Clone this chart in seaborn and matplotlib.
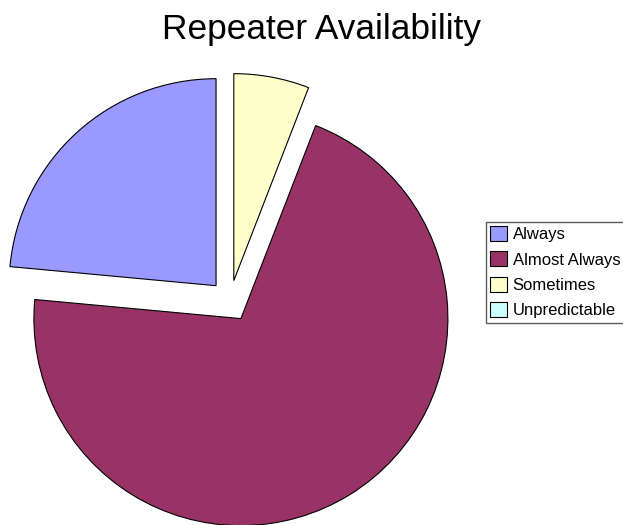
import matplotlib
matplotlib.use("Agg")
import matplotlib.pyplot as plt
import matplotlib.patches as mpatches
import seaborn as sns

categories = ["Always", "Almost Always", "Sometimes", "Unpredictable"]
counts = [4, 12, 1, 0]
colors = ["#9999FF", "#993366", "#FFFFCC", "#CCFFFF"]
title = "Repeater Availability"

sns.set_theme(style="white")
plt.rcParams["font.family"] = ["Liberation Sans", "DejaVu Sans"]
plt.rcParams["text.color"] = "black"

W, H = 623, 525
fig = plt.figure(figsize=(W / 100, H / 100), dpi=100)

# pie centre and radius in pixels
cx, cy, R = 230, 301, 207
span = 1.3
side = 2 * span * R
ax = fig.add_axes([(cx - side / 2) / W, (H - cy - side / 2) / H, side / W, side / H])

# zero-sized slices are left out of the pie but kept in the legend
shown = [(v, c) for v, c in zip(counts, colors) if v > 0]
ax.pie([v for v, _ in shown], colors=[c for _, c in shown],
       startangle=90, counterclock=True, explode=[0.1] * len(shown),
       wedgeprops=dict(edgecolor="black", linewidth=0.8), frame=False)
ax.set_aspect("auto")
ax.set_xlim(-span, span)
ax.set_ylim(-span, span)

fig.text(321 / W, 1 - 39 / H, title, ha="center", va="baseline",
         fontsize=25.4, color="black")

handles = [mpatches.Patch(facecolor=c, edgecolor="black", linewidth=0.8, label=l)
           for l, c in zip(categories, colors)]
leg = fig.legend(handles=handles, loc="upper left", bbox_to_anchor=(486 / W, 1 - 222 / H),
                 fontsize=12, frameon=True, fancybox=False, borderpad=0.25,
                 labelspacing=0.55, handlelength=1.0, handleheight=1.0,
                 handletextpad=0.35, borderaxespad=0, labelcolor="black")
leg.get_frame().set_edgecolor("#333333")
leg.get_frame().set_linewidth(1.0)

fig.savefig("out.png", dpi=100)
